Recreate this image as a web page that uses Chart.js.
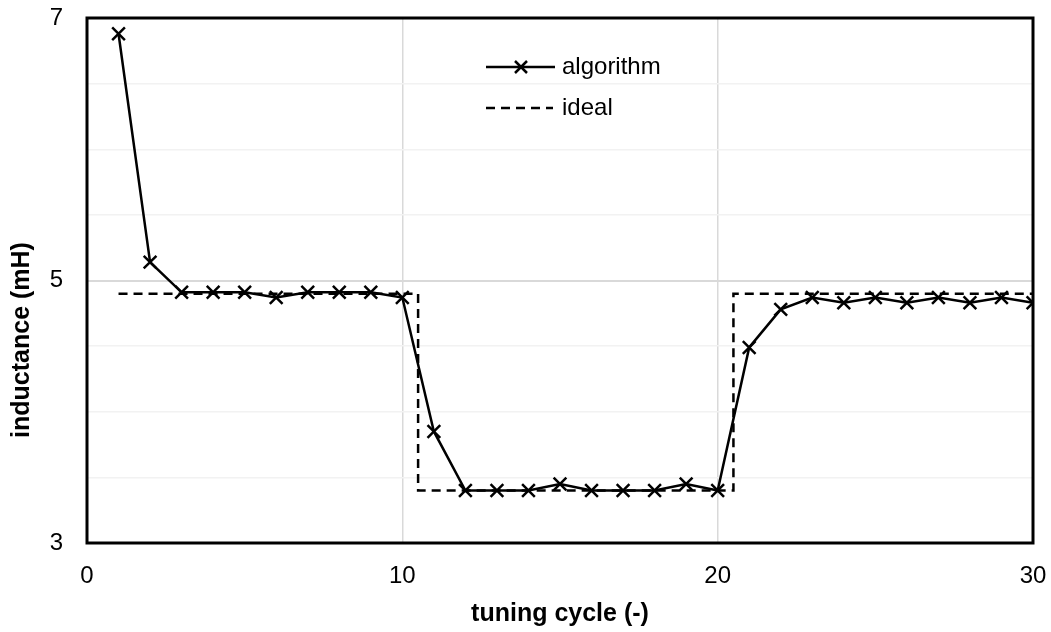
<!DOCTYPE html>
<html>
<head>
<meta charset="utf-8">
<script src="https://cdn.jsdelivr.net/npm/chart.js@4.4.1/dist/chart.umd.min.js"></script>
<style>
  html, body { margin: 0; padding: 0; background: #fff; }
  #wrap { width: 1051px; height: 632px; position: relative; }
</style>
</head>
<body>
<div id="wrap"><canvas id="myChart" width="1051" height="632"></canvas></div>
<script>
// tuning cycles and measured inductance (mH)
const cycles = [1,2,3,4,5,6,7,8,9,10,11,12,13,14,15,16,17,18,19,20,21,22,23,24,25,26,27,28,29,30];
const algorithm = [6.88,5.14,4.91,4.91,4.91,4.87,4.91,4.91,4.91,4.87,3.85,3.40,3.40,3.40,3.45,3.40,3.40,3.40,3.45,3.40,4.49,4.78,4.87,4.83,4.87,4.83,4.87,4.83,4.87,4.83];

// ideal step profile
const idealX = [1, 10.5, 10.5, 20.5, 20.5, 30];
const idealY = [4.9, 4.9, 3.4, 3.4, 4.9, 4.9];

const yLabels = [3, 5, 7];
const xLabels = [0, 10, 20, 30];

const xTitle = 'tuning cycle (-)';
const yTitle = 'inductance (mH)';

const font = '"Liberation Sans", Arial, sans-serif';

const framePlugin = {
  id: 'frame',
  beforeDatasetsDraw(chart) {
    const { ctx, chartArea: a } = chart;
    ctx.save();
    ctx.strokeStyle = '#000';
    ctx.lineWidth = 3;
    ctx.strokeRect(a.left, a.top, a.right - a.left, a.bottom - a.top);
    ctx.restore();
  },
  afterDraw(chart) {
    const { ctx, chartArea: a } = chart;
    ctx.save();
    // y axis title
    ctx.fillStyle = '#000';
    ctx.font = 'bold 25px ' + font;
    ctx.textAlign = 'center';
    ctx.textBaseline = 'middle';
    ctx.translate(22, a.bottom - 203);
    ctx.rotate(-Math.PI / 2);
    ctx.fillText(yTitle, 0, 0);
    ctx.restore();

    // legend
    ctx.save();
    const lx = a.left + 399, ly1 = a.top + 49, ly2 = a.top + 90;
    ctx.strokeStyle = '#000';
    ctx.lineWidth = 2.5;
    ctx.beginPath();
    ctx.moveTo(lx, ly1); ctx.lineTo(lx + 69, ly1);
    ctx.stroke();
    const cx = lx + 35, r = 6;
    ctx.beginPath();
    ctx.moveTo(cx - r, ly1 - r); ctx.lineTo(cx + r, ly1 + r);
    ctx.moveTo(cx - r, ly1 + r); ctx.lineTo(cx + r, ly1 - r);
    ctx.stroke();
    ctx.setLineDash([9, 6]);
    ctx.beginPath();
    ctx.moveTo(lx, ly2); ctx.lineTo(lx + 67, ly2);
    ctx.stroke();
    ctx.setLineDash([]);
    ctx.fillStyle = '#000';
    ctx.font = '24px ' + font;
    ctx.textAlign = 'left';
    ctx.textBaseline = 'middle';
    ctx.fillText('algorithm', lx + 76, ly1);
    ctx.fillText('ideal', lx + 76, ly2);
    ctx.restore();
  }
};

const ctx = document.getElementById('myChart').getContext('2d');

new Chart(ctx, {
  type: 'scatter',
  data: {
    datasets: [
      {
        label: 'algorithm',
        data: cycles.map((c, i) => ({ x: c, y: algorithm[i] })),
        showLine: true,
        borderColor: '#000',
        backgroundColor: '#000',
        borderWidth: 2.5,
        pointStyle: 'crossRot',
        pointRadius: 9,
        pointBorderWidth: 2.5,
        pointBorderColor: '#000',
        order: 1
      },
      {
        label: 'ideal',
        data: idealX.map((x, i) => ({ x: x, y: idealY[i] })),
        showLine: true,
        borderColor: '#000',
        borderWidth: 2.5,
        borderDash: [9, 6],
        pointRadius: 0,
        order: 2
      }
    ]
  },
  options: {
    responsive: false,
    animation: false,
    layout: { padding: { top: 18, right: 18, left: 0, bottom: 0 }, autoPadding: false },
    plugins: {
      legend: { display: false },
      tooltip: { enabled: false }
    },
    scales: {
      x: {
        type: 'linear',
        min: 0,
        max: 30,
        afterFit(s) { s.height = 89; s.paddingLeft = 0; s.paddingRight = 0; },
        ticks: {
          stepSize: 10,
          padding: 19,
          color: '#000',
          font: { family: font, size: 24 },
          maxRotation: 0,
          callback: v => xLabels.includes(v) ? String(v) : ''
        },
        grid: {
          drawTicks: false,
          color: c => (c.tick.value === 10 || c.tick.value === 20) ? '#d9d9d9' : 'rgba(0,0,0,0)',
          lineWidth: 1.5
        },
        border: { display: false },
        title: {
          display: true,
          text: xTitle,
          color: '#000',
          font: { family: font, size: 25, weight: 'bold' },
          padding: { top: 0, bottom: 3 }
        }
      },
      y: {
        type: 'linear',
        min: 3,
        max: 7,
        afterFit(s) { s.width = 87; s.paddingTop = 0; s.paddingBottom = 0; },
        ticks: {
          stepSize: 0.5,
          padding: 24,
          color: '#000',
          font: { family: font, size: 24 },
          autoSkip: false,
          callback: v => yLabels.includes(v) ? String(v) : ''
        },
        grid: {
          drawTicks: false,
          color: c => c.tick.value === 5 ? '#d9d9d9' : '#f2f2f2',
          lineWidth: c => c.tick.value === 5 ? 2 : 1.5
        },
        border: { display: false }
      }
    }
  },
  plugins: [framePlugin]
});
</script>
</body>
</html>
